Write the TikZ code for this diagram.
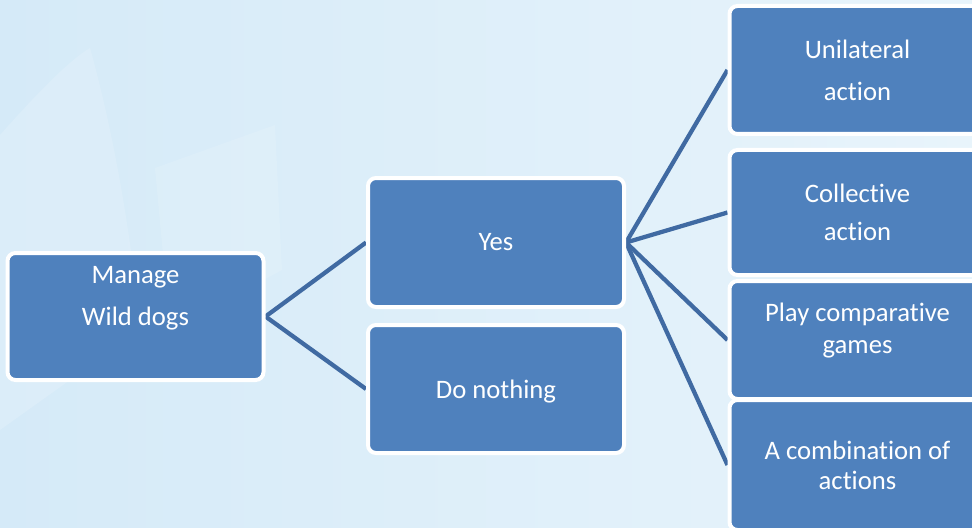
\documentclass[tikz,border=0pt]{standalone}
\usepackage{fontspec}
\setmainfont{Carlito}[Ligatures=NoCommon]
\usepackage{xcolor}
\usepackage{tikz}
\usetikzlibrary{positioning}
\definecolor{boxcol}{RGB}{79,129,189}
\definecolor{wirecol}{RGB}{64,106,162}
\definecolor{bgleft}{RGB}{213,234,248}
\definecolor{bgright}{RGB}{232,244,251}
\pgfdeclarelayer{back}
\pgfdeclarelayer{wires}
\pgfsetlayers{back,wires,main}

\begin{document}
\begin{tikzpicture}[
  x=0.75pt, y=-0.75pt,
  choice/.style={draw=white, line width=3pt, fill=boxcol, rounded corners=6pt,
                 minimum width=192pt, minimum height=96pt, text=white,
                 align=center, font=\fontsize{20}{31.5}\selectfont},
  wire/.style={draw=wirecol, line width=3.2pt}
]
  \useasboundingbox (0,0) rectangle (972,528);
  \begin{pgfonlayer}{back}
    \shade[left color=bgleft, right color=bgright] (0,0) rectangle (972,528);
    \fill[white, opacity=0.15] (0,135) .. controls (40,90) and (70,60) .. (90,48)
      .. controls (110,120) and (130,220) .. (140,330) -- (0,430) -- cycle;
    \fill[white, opacity=0.12] (155,168) -- (275,125) -- (282,270) -- (170,330) -- cycle;
  \end{pgfonlayer}
  \clip (0,0) rectangle (972,528);

  \node[choice, minimum height=95.25pt] (manage) at (135.5,316.5) {Manage\\Wild dogs\\[-10.5pt]\strut};
  \node[choice, minimum height=96.75pt] (yes) at (496,242.5) {Yes};
  \node[choice, minimum height=96pt, text depth=0pt, below=10.5pt of yes] (nothing) {Do nothing};
  \node[choice] (unilateral) at (857.5,70) {Unilateral\\action};
  \node[choice, minimum height=93.75pt, below=9pt of unilateral,
        font=\fontsize{20}{28.5}\selectfont] (collective) {Collective\\action};
  \node[choice, minimum height=88.5pt, below=1.5pt of collective,
        font=\fontsize{20}{24}\selectfont] (play) {Play comparative\\games\\[-13.5pt]\strut};
  \node[choice, minimum height=97.5pt, below=-2.25pt of play,
        font=\fontsize{20}{22.5}\selectfont] (combination) {A combination of\\actions};

  \begin{pgfonlayer}{wires}
    \draw[wire] (manage.east) -- (yes.west);
    \draw[wire] (manage.east) -- (nothing.west);
    \draw[wire] (yes.east) -- (unilateral.west);
    \draw[wire] (yes.east) -- (collective.west);
    \draw[wire] (yes.east) -- (play.west);
    \draw[wire] (yes.east) -- (combination.west);
  \end{pgfonlayer}
\end{tikzpicture}
\end{document}
